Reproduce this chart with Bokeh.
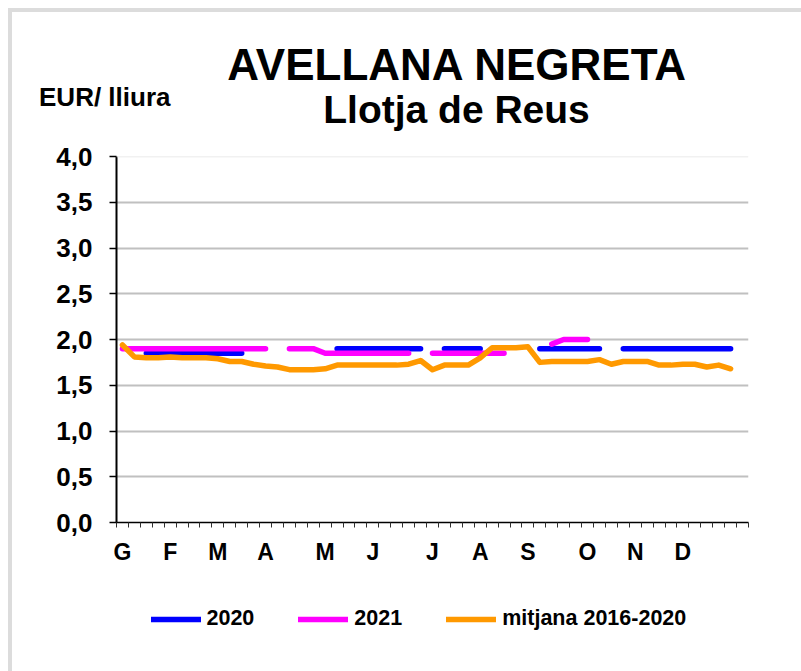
from bokeh.plotting import figure
from bokeh.layouts import column
from bokeh.models import (FixedTicker, Range1d, Label, Legend, LegendItem, CustomJSTickFormatter,
                          Span, LinearAxis)
from bokeh.embed import file_html
from bokeh.resources import INLINE

nan = float("nan")

# ---- data (weekly, 53 weeks) ----
weeks = list(range(53))
month_labels = ["G", "F", "M", "A", "M", "J", "J", "A", "S", "O", "N", "D"]
month_weeks = [0, 4, 8, 12, 17, 21, 26, 30, 34, 39, 43, 47]
y_ticks = [0.0, 0.5, 1.0, 1.5, 2.0, 2.5, 3.0, 3.5, 4.0]

s2020 = [nan, nan,
         1.85, 1.85, 1.85, 1.85, 1.85, 1.85, 1.85, 1.85, 1.85,
         nan, nan, nan, nan, nan, nan, nan,
         1.90, 1.90, 1.90, 1.90, 1.90, 1.90, 1.90, 1.90,
         nan,
         1.90, 1.90, 1.90, 1.90,
         nan, nan, nan, nan,
         1.90, 1.90, 1.90, 1.90, 1.90, 1.90,
         nan,
         1.90, 1.90, 1.90, 1.90, 1.90, 1.90, 1.90, 1.90, 1.90, 1.90,
         nan]

s2021 = [1.90, 1.90, 1.90, 1.90, 1.90, 1.90, 1.90, 1.90, 1.90, 1.90, 1.90, 1.90, 1.90,
         nan,
         1.90, 1.90, 1.90, 1.85, 1.85, 1.85, 1.85, 1.85, 1.85, 1.85, 1.85,
         nan,
         1.85, 1.85, 1.85, 1.85, 1.85, 1.85, 1.85,
         nan, nan, nan,
         1.95, 2.00, 2.00, 2.00,
         nan, nan, nan, nan, nan, nan, nan, nan, nan, nan, nan, nan, nan]

mitjana = [1.94, 1.81, 1.80, 1.80, 1.81, 1.80, 1.80, 1.80, 1.79, 1.76,
           1.76, 1.73, 1.71, 1.70, 1.67, 1.67, 1.67, 1.68, 1.72, 1.72,
           1.72, 1.72, 1.72, 1.72, 1.73, 1.77, 1.67, 1.72, 1.72, 1.72,
           1.80, 1.91, 1.91, 1.91, 1.92, 1.75, 1.76, 1.76, 1.76, 1.76,
           1.78, 1.73, 1.76, 1.76, 1.76, 1.72, 1.72, 1.73, 1.73, 1.70,
           1.72, 1.68, nan]

series = [s2020, s2021, mitjana]
series_names = ["2020", "2021", "mitjana 2016-2020"]
series_colors = ["#0000ff", "#ff00ff", "#ff9900"]

title_text = "AVELLANA NEGRETA"
subtitle_text = "Llotja de Reus"
unit_text = "EUR/ lliura"

# ---- layout (page pixels) ----
OX, OY = 12, 12            # content origin on page (8px margin + 4px border)
W = 789
Y_SPLIT1, Y_SPLIT2, Y_END = 135, 575, 671
FL, FR, FT, FB = 116, 748, 156, 522   # chart frame edges on page (all strips share FL..FR)
FONT = "Liberation Sans"
BORDER = "4px solid #dcdcdc"


def strip(height):
    f = figure(width=W, height=height, output_backend="svg", toolbar_location=None,
               x_range=Range1d(FL, FR), y_range=Range1d(height, 0),
               x_axis_location=None, y_axis_location=None,
               min_border_left=FL - OX, min_border_right=W - (FR - OX),
               min_border_top=0, min_border_bottom=0)
    f.title.visible = False
    f.grid.visible = False
    f.outline_line_color = None
    f.border_fill_color = "white"
    f.background_fill_color = "white"
    return f


# ---- title strip ----
H1 = Y_SPLIT1 - OY
t = strip(H1)


def tlabel(px, baseline, text, fs):
    # Bokeh puts this anchor a bit below the alphabetic line; compensate
    t.add_layout(Label(x=px, y=baseline - 0.37 * fs - OY, text=text, text_align="center",
                       text_baseline="alphabetic", text_font=FONT, text_font_style="bold",
                       text_font_size=f"{fs}px", text_color="black"))


tlabel(457, 80, title_text, 44)
tlabel(456, 123, subtitle_text, 39)

# unit text sits left of the chart frame: show it as the single label of a bare left axis
eur_y = 96 - OY
ua = LinearAxis(ticker=FixedTicker(ticks=[eur_y]), major_label_overrides={eur_y: unit_text},
                axis_line_color=None, major_tick_line_color=None, minor_tick_line_color=None,
                major_tick_in=0, major_tick_out=0, major_label_standoff=-(170 - FL),
                major_label_text_font=FONT, major_label_text_font_style="bold",
                major_label_text_font_size="26px", major_label_text_color="black")
t.add_layout(ua, "left")

# ---- chart ----
H2 = Y_SPLIT2 - Y_SPLIT1
p = figure(width=W, height=H2, output_backend="svg", toolbar_location=None,
           x_range=Range1d(-0.5, 52.5), y_range=Range1d(0, 4),
           min_border_left=FL - OX, min_border_right=W - (FR - OX),
           min_border_top=FT - Y_SPLIT1, min_border_bottom=Y_SPLIT2 - FB)
p.title.visible = False
p.outline_line_color = None
p.background_fill_color = "white"
p.border_fill_color = "white"

p.xgrid.visible = False
p.ygrid.ticker = FixedTicker(ticks=y_ticks[1:-1])
p.ygrid.grid_line_color = "#c0c0c0"
p.ygrid.grid_line_width = 2
p.add_layout(Span(location=y_ticks[-1], dimension="width", line_color="#e4e4e4", line_width=1.5))

ya = p.yaxis[0]
ya.ticker = FixedTicker(ticks=y_ticks)
ya.formatter = CustomJSTickFormatter(code="return tick.toFixed(1).replace('.', ',');")
ya.axis_line_color = "black"
ya.axis_line_width = 2
ya.major_tick_line_color = "black"
ya.major_tick_line_width = 1.5
ya.major_tick_in = 0
ya.major_tick_out = 7
ya.minor_tick_line_color = None
ya.major_label_standoff = 17
ya.major_label_text_font = FONT
ya.major_label_text_font_style = "bold"
ya.major_label_text_font_size = "26px"
ya.major_label_text_color = "black"

xa = p.xaxis[0]
xa.ticker = FixedTicker(ticks=month_weeks, minor_ticks=[k - 0.5 for k in range(54)])
xa.major_label_overrides = {w: m for w, m in zip(month_weeks, month_labels)}
xa.axis_line_color = "black"
xa.axis_line_width = 1.5
xa.major_tick_line_color = None
xa.major_tick_in = 0
xa.major_tick_out = 0
xa.minor_tick_line_color = "#303030"
xa.minor_tick_line_width = 1
xa.minor_tick_in = 0
xa.minor_tick_out = 5
xa.major_label_standoff = 11
xa.major_label_text_font = FONT
xa.major_label_text_font_style = "bold"
xa.major_label_text_font_size = "23px"
xa.major_label_text_color = "black"

kw = dict(line_width=5.5, line_cap="round", line_join="round")
for vals, col in zip(series, series_colors):
    p.line(weeks, vals, line_color=col, **kw)

# ---- legend strip (legend glyphs taken from hidden copies of the series) ----
H3 = Y_END - Y_SPLIT2
b = strip(H3)
items = []
for vals, name, col in zip(series, series_names, series_colors):
    r = b.line(weeks, vals, line_color=col, visible=False, **kw)
    items.append(LegendItem(label=name, renderers=[r]))
legend = Legend(items=items, orientation="horizontal", location=(150.5 - FL, 40),
                glyph_width=50, glyph_height=20, label_standoff=6, spacing=44,
                padding=0, margin=0, border_line_color=None,
                background_fill_alpha=0,
                label_text_font=FONT, label_text_font_style="bold",
                label_text_font_size="21.5px", label_text_color="black")
b.add_layout(legend, "center")

layout = column(t, p, b, spacing=0,
                styles={"margin-left": "8px", "margin-top": "8px",
                        "border-top": BORDER, "border-left": BORDER,
                        "background-color": "white"})

open("out.html", "w").write(file_html(layout, INLINE))
